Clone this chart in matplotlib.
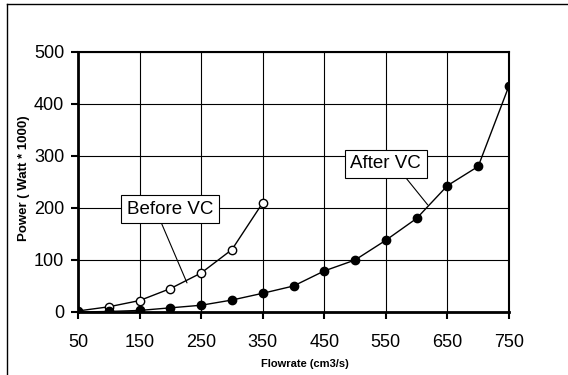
import matplotlib
matplotlib.use('Agg')
import matplotlib.pyplot as plt
from matplotlib.lines import Line2D

plt.rcParams['font.family'] = ['Liberation Sans', 'DejaVu Sans']

# --- data ---
before_x = [50, 100, 150, 200, 250, 300, 350]
before_y = [2, 10, 22, 45, 75, 120, 210]

after_x = [50, 100, 150, 200, 250, 300, 350, 400, 450, 500, 550, 600, 650, 700, 750]
after_y = [0, 1, 3, 8, 13, 23, 36, 50, 79, 100, 138, 180, 243, 280, 435]

x_ticks = [50, 150, 250, 350, 450, 550, 650, 750]
y_ticks = [0, 100, 200, 300, 400, 500]

fig = plt.figure(figsize=(5.68, 3.75), dpi=100)
ax = fig.add_axes([78 / 568, 1 - 312 / 375, 431 / 568, 260 / 375])

ax.plot(before_x, before_y, color='black', lw=1, marker='o', ms=6,
        mfc='white', mec='black', mew=1, zorder=3)
ax.plot(after_x, after_y, color='black', lw=1, marker='o', ms=6,
        mfc='black', mec='black', zorder=4)

ax.set_xlim(50, 750)
ax.set_ylim(0, 500)
ax.set_xticks(x_ticks)
ax.set_yticks(y_ticks)
ax.tick_params(labelsize=13, length=5, width=1.5, direction='out')
ax.tick_params(axis='x', pad=11)
ax.tick_params(axis='y', pad=5)
ax.grid(True, color='black', lw=0.8)
ax.set_axisbelow(True)
for s in ['left', 'bottom']:
    ax.spines[s].set_linewidth(2)
for s in ['top', 'right']:
    ax.spines[s].set_linewidth(1.5)
for m in ax.spines.values():
    m.set_clip_on(False)

ax.set_xlabel('Flowrate (cm3/s)', fontsize=8, fontweight='bold')
ax.set_ylabel('Power ( Watt * 1000)', fontsize=9.5, fontweight='bold')
ax.xaxis.set_label_coords(0.527, -0.181)
ax.yaxis.set_label_coords(-0.111, 0.515)

box = dict(boxstyle='square,pad=0.3', fc='white', ec='black', lw=0.8)
ax.annotate('Before VC', xy=(227, 56), xytext=(199, 198), fontsize=13.5,
            ha='center', va='center', bbox=box,
            arrowprops=dict(arrowstyle='-', color='black', lw=0.8,
                            shrinkA=0, shrinkB=0, relpos=(0.376, 0)))
ax.annotate('After VC', xy=(618, 206), xytext=(550, 285), fontsize=13.5,
            ha='center', va='center', bbox=box,
            arrowprops=dict(arrowstyle='-', color='black', lw=0.8,
                            shrinkA=0, shrinkB=0, relpos=(0.72, 0)))

# outer chart-area frame (top and left edges visible in the crop)
fig.add_artist(Line2D([7 / 568, 1], [1 - 4 / 375, 1 - 4 / 375], color='black', lw=1))
fig.add_artist(Line2D([7 / 568, 7 / 568], [0, 1 - 4 / 375], color='black', lw=1))

fig.savefig('out.png', dpi=100)
